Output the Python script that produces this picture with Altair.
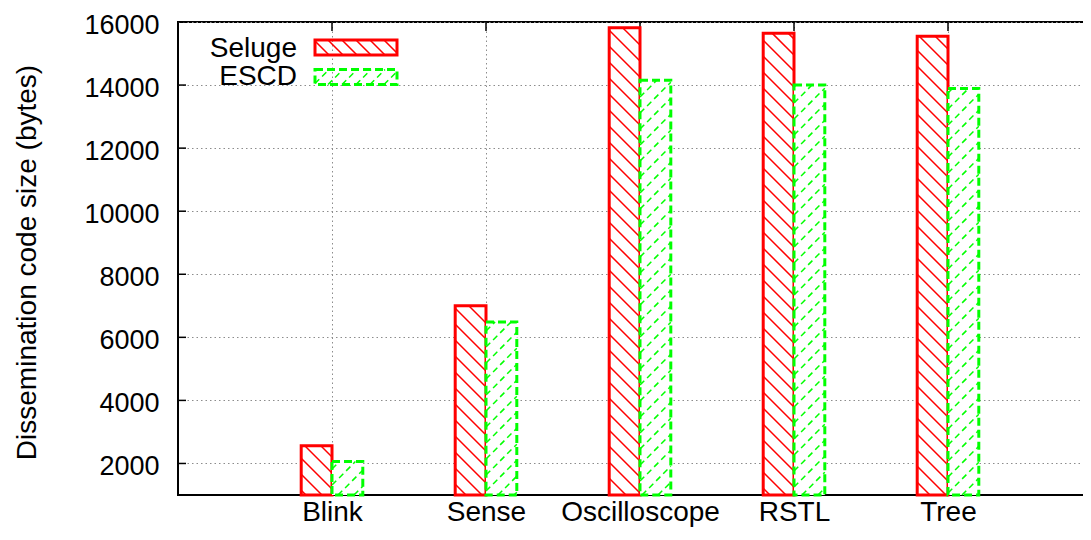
import json
import numpy as np
import pandas as pd
import altair as alt

# ---------------- data ----------------
CATEGORIES = ["Blink", "Sense", "Oscilloscope", "RSTL", "Tree"]
SERIES = ["Seluge", "ESCD"]
SELUGE_BYTES = [2560, 7000, 15820, 15640, 15550]
ESCD_BYTES = [2060, 6490, 14150, 14000, 13890]
Y_TICKS = [2000, 4000, 6000, 8000, 10000, 12000, 14000, 16000]
Y_TITLE = "Dissemination code size (bytes)"

# ---------------- layout / style ----------------
W, H = 924, 473
X_DOMAIN = [-1, 5]
Y_DOMAIN = [1000, 16000]
BAR_W = 0.2
FONT = "Liberation Sans"
RED = "#ff0000"
GREEN = "#00ff00"
GRID = "#8c8c8c"
PAD = {"left": 170, "top": 14, "right": -19, "bottom": 33}

kx = W / (X_DOMAIN[1] - X_DOMAIN[0])
ky = H / (Y_DOMAIN[1] - Y_DOMAIN[0])

pos = list(range(len(CATEGORIES)))
n = len(CATEGORIES)

bars = pd.DataFrame({
    "cat": CATEGORIES * 2,
    "series": [SERIES[0]] * n + [SERIES[1]] * n,
    "value": SELUGE_BYTES + ESCD_BYTES,
    "x0": [p - BAR_W for p in pos] + pos,
    "x1": pos + [p + BAR_W for p in pos],
})
bars["base"] = Y_DOMAIN[0]


def hatch_rows(series, x0, x1, y0, y1, s, step):
    X0, X1 = (x0 - X_DOMAIN[0]) * kx, (x1 - X_DOMAIN[0]) * kx
    Y0, Y1 = (y0 - Y_DOMAIN[0]) * ky, (y1 - Y_DOMAIN[0]) * ky
    cs = [Y0 - s * X0, Y0 - s * X1, Y1 - s * X0, Y1 - s * X1]
    cmin, cmax = min(cs), max(cs)
    rows = []
    for c in np.arange(np.ceil(cmin / step) * step, cmax, step):
        if s > 0:
            a, b = Y0 - c, Y1 - c
        else:
            a, b = c - Y1, c - Y0
        a, b = max(a, X0), min(b, X1)
        if b - a < 1.0:
            continue
        ya, yb = s * a + c, s * b + c
        rows.append({
            "series": series,
            "hx": a / kx + X_DOMAIN[0], "hx2": b / kx + X_DOMAIN[0],
            "hy": ya / ky + Y_DOMAIN[0], "hy2": yb / ky + Y_DOMAIN[0],
        })
    return rows


hrows = []
for _, r in bars.iterrows():
    s = -1 if r["series"] == SERIES[0] else 1
    hrows += hatch_rows(r["series"], r["x0"], r["x1"], r["base"], r["value"], s, 16)
hatch = pd.DataFrame(hrows)

ticks_df = pd.DataFrame({"t": Y_TICKS})
pos_df = pd.DataFrame({"p": pos})

xs = alt.Scale(domain=X_DOMAIN, nice=False, zero=False)
ys = alt.Scale(domain=Y_DOMAIN, nice=False, zero=False)

label_expr = f"{json.dumps(CATEGORIES)}[datum.value]"

x_axis = alt.Axis(values=pos, labelExpr=label_expr, grid=True, gridDash=[1.5, 3],
                  gridColor=GRID, gridWidth=1, domain=False, ticks=False,
                  labelFontSize=28, labelFont=FONT, labelColor="black",
                  labelPadding=3, labelAngle=0, labelOverlap=False, title=None)
y_axis = alt.Axis(values=Y_TICKS, grid=True, gridDash=[1.5, 3], gridColor=GRID,
                  gridWidth=1, domain=False, ticks=False, format="d",
                  labelFontSize=27, labelFont=FONT, labelColor="black",
                  labelPadding=19, labelOffset=3, labelOverlap=False,
                  title=Y_TITLE, titleFont=FONT, titleFontSize=28,
                  titleFontWeight="normal", titleColor="black", titleAngle=270,
                  titleX=-143, titleY=240, titleAlign="center",
                  titleBaseline="alphabetic")


def X(field):
    return alt.X(field, scale=xs, axis=x_axis)


def Y(field):
    return alt.Y(field, scale=ys, axis=y_axis)


left_ticks = alt.Chart(ticks_df).mark_rule(color="black", strokeWidth=1.5).encode(
    x=alt.value(0), x2=alt.value(8), y=Y("t:Q"),
)
top_ticks = alt.Chart(pos_df).mark_rule(color="black", strokeWidth=1.5).encode(
    x=X("p:Q"), y=alt.value(0), y2=alt.value(9),
)


def series_layers(name, color, dash, hdash):
    d = bars[bars["series"] == name]
    h = hatch[hatch["series"] == name]
    fill = alt.Chart(d).mark_rect(fill="white", stroke=None).encode(
        x=X("x0:Q"), x2="x1:Q", y=Y("value:Q"), y2="base:Q",
    )
    hl_kwargs = dict(color=color, strokeWidth=1.5)
    if hdash:
        hl_kwargs["strokeDash"] = hdash
    hl = alt.Chart(h).mark_rule(**hl_kwargs).encode(
        x=X("hx:Q"), x2="hx2:Q", y=Y("hy:Q"), y2="hy2:Q",
    )
    o_kwargs = dict(fillOpacity=0, stroke=color, strokeWidth=3)
    if dash:
        o_kwargs["strokeDash"] = dash
    outline = alt.Chart(d).mark_rect(**o_kwargs).encode(
        x=X("x0:Q"), x2="x1:Q", y=Y("value:Q"), y2="base:Q",
    )
    return [fill, hl, outline]


# ---------------- legend ----------------
HW, HH = 41.0, 7.5


def legend_hatch_path(down_right, step=14):
    parts = []
    for c in np.arange(-HW - 2 * HH, HW + step, step):
        xa, xb = max(c, -HW), min(c + 2 * HH, HW)
        if xb - xa < 0.5:
            continue
        if down_right:
            ya, yb = -HH + (xa - c), -HH + (xb - c)
        else:
            ya, yb = HH - (xa - c), HH - (xb - c)
        parts.append(f"M{xa/HW:.4f},{ya/HW:.4f}L{xb/HW:.4f},{yb/HW:.4f}")
    return "".join(parts)


RECT_PATH = f"M-1,{-HH/HW:.4f}H1V{HH/HW:.4f}H-1Z"
SYM_SIZE = (2 * HW) ** 2


def legend_entry(name, color, down_right, sample_y, text_y, dash, hdash):
    src = alt.Chart(pd.DataFrame({"series": [name]}))
    txt = src.mark_text(align="right", baseline="alphabetic", font=FONT,
                        fontSize=28, color="black").encode(
        x=alt.value(119), y=alt.value(text_y), text="series:N")
    hk = dict(shape=legend_hatch_path(down_right), size=SYM_SIZE, filled=False,
              stroke=color, strokeWidth=1.5, opacity=1)
    if hdash:
        hk["strokeDash"] = hdash
    h = src.mark_point(**hk).encode(x=alt.value(178), y=alt.value(sample_y))
    rk = dict(shape=RECT_PATH, size=SYM_SIZE, filled=False, stroke=color,
              strokeWidth=3, opacity=1)
    if dash:
        rk["strokeDash"] = dash
    r = src.mark_point(**rk).encode(x=alt.value(178), y=alt.value(sample_y))
    return [txt, h, r]


layers = [left_ticks, top_ticks]
layers += series_layers(SERIES[0], RED, None, None)
layers += series_layers(SERIES[1], GREEN, [8, 4], [6, 4])
layers += legend_entry(SERIES[0], RED, True, 25.5, 35, None, None)
layers += legend_entry(SERIES[1], GREEN, False, 55, 63, [8, 4], [6, 4])

chart = alt.layer(*layers).properties(
    width=W, height=H, padding=PAD,
    autosize=alt.AutoSizeParams(type="none"),
).configure_view(stroke="black", strokeWidth=2)

chart.save("out.html", embed_options={"renderer": "svg", "actions": False})
